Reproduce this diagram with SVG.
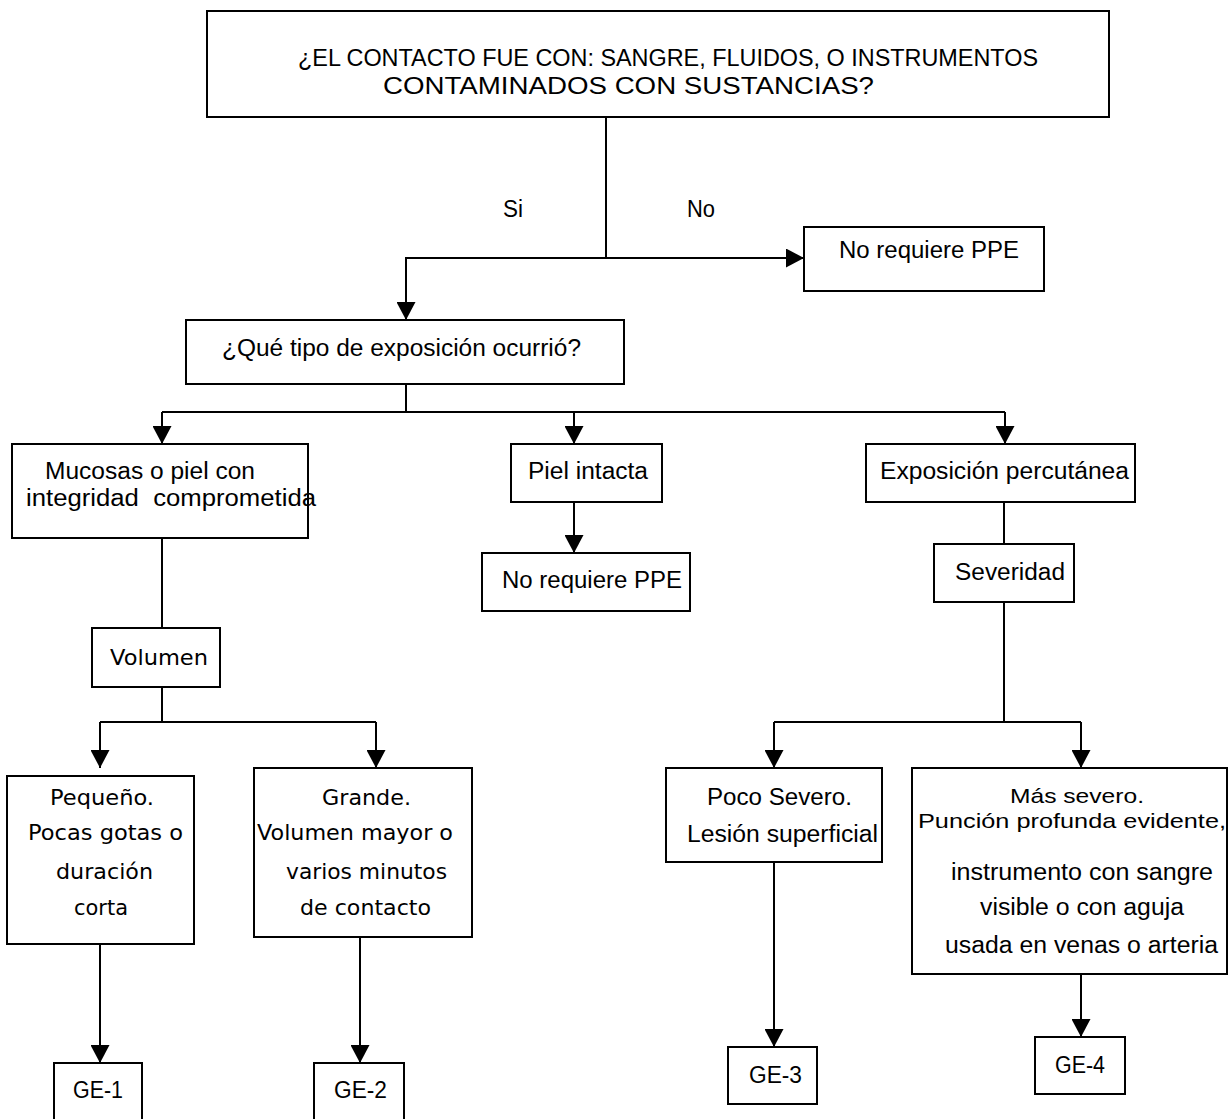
<svg xmlns="http://www.w3.org/2000/svg" width="1229" height="1119" viewBox="0 0 1229 1119">
<defs>
<style>
.box{fill:#fff;stroke:#000;stroke-width:2}
.ln{fill:none;stroke:#000;stroke-width:2}
.n{font-family:"Liberation Sans",Arial,sans-serif;font-size:23px;fill:#000}
.s{font-size:21px}
.w{font-family:"DejaVu Sans",Verdana,sans-serif;font-size:22px;fill:#000}
</style>
<marker id="ah" viewBox="0 0 18 19" refX="18" refY="9.5" markerWidth="18" markerHeight="19" markerUnits="userSpaceOnUse" orient="auto">
<path d="M0,0 L18,9.5 L0,19 z" fill="#000"/>
</marker>
</defs>
<rect width="1229" height="1119" fill="#fff"/>

<g id="connectors">
<path class="ln" d="M606,117 V258"/>
<path class="ln" d="M606,258 H406 V320" marker-end="url(#ah)"/>
<path class="ln" d="M606,258 H804" marker-end="url(#ah)"/>
<path class="ln" d="M406,384 V412"/>
<path class="ln" d="M162,412 H1005"/>
<path class="ln" d="M162,412 V444" marker-end="url(#ah)"/>
<path class="ln" d="M574,412 V444" marker-end="url(#ah)"/>
<path class="ln" d="M1005,412 V444" marker-end="url(#ah)"/>
<path class="ln" d="M574,502 V553" marker-end="url(#ah)"/>
<path class="ln" d="M162,538 V628"/>
<path class="ln" d="M1004,502 V544"/>
<path class="ln" d="M162,687 V722"/>
<path class="ln" d="M100,722 H376"/>
<path class="ln" d="M100,722 V768" marker-end="url(#ah)"/>
<path class="ln" d="M376,722 V768" marker-end="url(#ah)"/>
<path class="ln" d="M1004,602 V722"/>
<path class="ln" d="M774,722 H1081"/>
<path class="ln" d="M774,722 V768" marker-end="url(#ah)"/>
<path class="ln" d="M1081,722 V768" marker-end="url(#ah)"/>
<path class="ln" d="M100,944 V1063" marker-end="url(#ah)"/>
<path class="ln" d="M360,937 V1063" marker-end="url(#ah)"/>
<path class="ln" d="M774,862 V1047" marker-end="url(#ah)"/>
<path class="ln" d="M1081,974 V1037" marker-end="url(#ah)"/>
</g>

<g id="labels">
<text class="n" x="503" y="217" textLength="20" lengthAdjust="spacingAndGlyphs">Si</text>
<text class="n" x="687" y="217" textLength="28" lengthAdjust="spacingAndGlyphs">No</text>
</g>

<g id="n-top">
<rect class="box" x="207" y="11" width="902" height="106"/>
<text class="n" x="298" y="66" textLength="740" lengthAdjust="spacingAndGlyphs">¿EL CONTACTO FUE CON: SANGRE, FLUIDOS, O INSTRUMENTOS</text>
<text class="n" x="383" y="94" textLength="491" lengthAdjust="spacingAndGlyphs">CONTAMINADOS CON SUSTANCIAS?</text>
</g>

<g id="n-noppe1">
<rect class="box" x="804" y="227" width="240" height="64"/>
<text class="n" x="839" y="258" textLength="180" lengthAdjust="spacingAndGlyphs">No requiere PPE</text>
</g>

<g id="n-tipo">
<rect class="box" x="186" y="320" width="438" height="64"/>
<text class="n" x="222" y="356" textLength="359" lengthAdjust="spacingAndGlyphs">¿Qué tipo de exposición ocurrió?</text>
</g>

<g id="n-mucosas">
<rect class="box" x="12" y="444" width="296" height="94"/>
<text class="n" x="45" y="479" textLength="210" lengthAdjust="spacingAndGlyphs">Mucosas o piel con</text>
<text class="n" x="26" y="506" textLength="290" lengthAdjust="spacingAndGlyphs" xml:space="preserve">integridad  comprometida</text>
</g>

<g id="n-piel">
<rect class="box" x="511" y="444" width="151" height="58"/>
<text class="n" x="528" y="479" textLength="120" lengthAdjust="spacingAndGlyphs">Piel intacta</text>
</g>

<g id="n-noppe2">
<rect class="box" x="482" y="553" width="208" height="58"/>
<text class="n" x="502" y="588" textLength="180" lengthAdjust="spacingAndGlyphs">No requiere PPE</text>
</g>

<g id="n-percutanea">
<rect class="box" x="866" y="444" width="269" height="58"/>
<text class="n" x="880" y="479" textLength="249" lengthAdjust="spacingAndGlyphs">Exposición percutánea</text>
</g>

<g id="n-severidad">
<rect class="box" x="934" y="544" width="140" height="58"/>
<text class="n" x="955" y="580" textLength="110" lengthAdjust="spacingAndGlyphs">Severidad</text>
</g>

<g id="n-volumen">
<rect class="box" x="92" y="628" width="128" height="59"/>
<text class="w" x="110" y="665" textLength="98" lengthAdjust="spacingAndGlyphs">Volumen</text>
</g>

<g id="n-pequeno">
<rect class="box" x="7" y="776" width="187" height="168"/>
<text class="w" x="50" y="805" textLength="104" lengthAdjust="spacingAndGlyphs">Pequeño.</text>
<text class="w" x="28" y="840" textLength="155" lengthAdjust="spacingAndGlyphs">Pocas gotas o</text>
<text class="w" x="56" y="879" textLength="97" lengthAdjust="spacingAndGlyphs">duración</text>
<text class="w" x="74" y="915" textLength="54" lengthAdjust="spacingAndGlyphs">corta</text>
</g>

<g id="n-grande">
<rect class="box" x="254" y="768" width="218" height="169"/>
<text class="w" x="322" y="805" textLength="89" lengthAdjust="spacingAndGlyphs">Grande.</text>
<text class="w" x="257" y="840" textLength="196" lengthAdjust="spacingAndGlyphs">Volumen mayor o</text>
<text class="w" x="286" y="879" textLength="161" lengthAdjust="spacingAndGlyphs">varios minutos</text>
<text class="w" x="300" y="915" textLength="131" lengthAdjust="spacingAndGlyphs">de contacto</text>
</g>

<g id="n-poco">
<rect class="box" x="666" y="768" width="216" height="94"/>
<text class="n" x="707" y="805" textLength="145" lengthAdjust="spacingAndGlyphs">Poco Severo.</text>
<text class="n" x="687" y="842" textLength="191" lengthAdjust="spacingAndGlyphs">Lesión superficial</text>
</g>

<g id="n-mas">
<rect class="box" x="912" y="768" width="315" height="206"/>
<text class="n s" x="1010" y="803" textLength="134" lengthAdjust="spacingAndGlyphs">Más severo.</text>
<text class="n s" x="918" y="828" textLength="308" lengthAdjust="spacingAndGlyphs">Punción profunda evidente,</text>
<text class="n" x="951" y="880" textLength="262" lengthAdjust="spacingAndGlyphs">instrumento con sangre</text>
<text class="n" x="980" y="915" textLength="204" lengthAdjust="spacingAndGlyphs">visible o con aguja</text>
<text class="n" x="945" y="953" textLength="273" lengthAdjust="spacingAndGlyphs">usada en venas o arteria</text>
</g>

<g id="n-ge1">
<rect class="box" x="54" y="1063" width="88" height="70"/>
<text class="n" x="73" y="1098" textLength="50" lengthAdjust="spacingAndGlyphs">GE-1</text>
</g>

<g id="n-ge2">
<rect class="box" x="314" y="1063" width="90" height="70"/>
<text class="n" x="334" y="1098" textLength="53" lengthAdjust="spacingAndGlyphs">GE-2</text>
</g>

<g id="n-ge3">
<rect class="box" x="728" y="1047" width="89" height="57"/>
<text class="n" x="749" y="1083" textLength="53" lengthAdjust="spacingAndGlyphs">GE-3</text>
</g>

<g id="n-ge4">
<rect class="box" x="1035" y="1037" width="90" height="57"/>
<text class="n" x="1055" y="1073" textLength="50" lengthAdjust="spacingAndGlyphs">GE-4</text>
</g>
</svg>
